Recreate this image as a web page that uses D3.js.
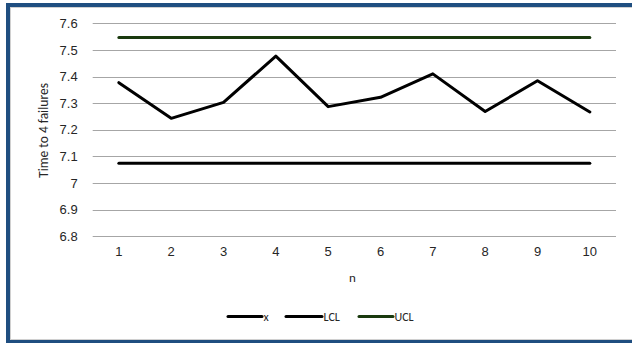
<!DOCTYPE html>
<html>
<head>
<meta charset="utf-8">
<script src="https://cdn.jsdelivr.net/npm/d3@7"></script>
<style>
  html, body { margin: 0; padding: 0; background: #fff; }
  svg { display: block; font-family: Carlito, Lato, "Open Sans", sans-serif; }
</style>
</head>
<body>
<svg id="chart" width="632" height="343"></svg>
<script>
// Control chart: time to 4 failures per sample n, with control limits
const categories = ["1", "2", "3", "4", "5", "6", "7", "8", "9", "10"];
const xValues = [7.377, 7.243, 7.303, 7.477, 7.287, 7.322, 7.41, 7.269, 7.384, 7.267];
const lclValue = 7.074;
const uclValue = 7.547;
const yTicks = [6.8, 6.9, 7, 7.1, 7.2, 7.3, 7.4, 7.5, 7.6];
const seriesNames = ["x", "LCL", "UCL"];

const W = 632, H = 343;
const svg = d3.select("#chart");
const textColor = "#262626";

// Frame: dark blue border with a thin light inner edge
svg.append("rect").attr("x", 8).attr("y", 5).attr("width", W + 10).attr("height", H - 6.5)
  .attr("fill", "none").attr("stroke", "#1F4E80").attr("stroke-width", 4);
svg.append("rect").attr("x", 10.5).attr("y", 7.5).attr("width", W).attr("height", H - 11)
  .attr("fill", "none").attr("stroke", "#d0d0d0").attr("stroke-width", 1);

const plot = { left: 92.7, right: 616, top: 23.3, bottom: 236.3 };

const x = d3.scaleBand().domain(categories).range([plot.left, plot.right]);
const y = d3.scaleLinear().domain([6.8, 7.6]).range([plot.bottom, plot.top]);
const cx = d => x(d) + x.bandwidth() / 2;

// Horizontal gridlines
svg.append("g").selectAll("line").data(yTicks).join("line")
  .attr("x1", plot.left).attr("x2", plot.right)
  .attr("y1", d => Math.round(y(d)) + 0.5).attr("y2", d => Math.round(y(d)) + 0.5)
  .attr("stroke", "#a6a6a6").attr("stroke-width", 1);

// Y axis labels
const yAxis = d3.axisLeft(y).tickValues(yTicks).tickSize(0).tickPadding(0)
  .tickFormat(d3.format("~g"));
const gy = svg.append("g").attr("transform", `translate(${plot.left - 15},0)`).call(yAxis);
gy.select(".domain").remove();
gy.selectAll("text").attr("font-size", 13).attr("font-weight", 500)
  .attr("fill", textColor).attr("font-family", null);

// X axis labels
const xAxis = d3.axisBottom(x).tickSize(0).tickPadding(0);
const gx = svg.append("g").attr("transform", `translate(0,${plot.bottom + 10})`).call(xAxis);
gx.select(".domain").remove();
gx.selectAll("text").attr("font-size", 13).attr("font-weight", 500)
  .attr("fill", textColor).attr("font-family", null);

// Axis titles
svg.append("text").attr("x", 352.5).attr("y", 282).attr("text-anchor", "middle")
  .attr("font-size", 13).attr("fill", textColor).text("n");
svg.append("text").attr("transform", "translate(48,130.5) rotate(-90)")
  .attr("text-anchor", "middle").attr("font-size", 13.5).attr("fill", textColor)
  .text("Time to 4 failures");

// Control limits
const limits = [
  { name: "UCL", value: uclValue, color: "#1A3A0E" },
  { name: "LCL", value: lclValue, color: "#000000" }
];
const seriesLine = d3.line().x(d => cx(d.c)).y(d => y(d.v));
limits.forEach(l => {
  svg.append("path")
    .datum(categories.map(c => ({ c, v: l.value })))
    .attr("d", seriesLine).attr("fill", "none")
    .attr("stroke", l.color).attr("stroke-width", 3).attr("stroke-linecap", "round");
});

// Observations
svg.append("path")
  .datum(categories.map((c, i) => ({ c, v: xValues[i] })))
  .attr("d", seriesLine).attr("fill", "none")
  .attr("stroke", "#000").attr("stroke-width", 3)
  .attr("stroke-linejoin", "round").attr("stroke-linecap", "round");

// Legend
const legendItems = [
  { name: seriesNames[0], color: "#000", x0: 228, x1: 262 },
  { name: seriesNames[1], color: "#000", x0: 286, x1: 322 },
  { name: seriesNames[2], color: "#1A3A0E", x0: 359, x1: 393 }
];
const lg = svg.append("g");
legendItems.forEach(it => {
  lg.append("line").attr("x1", it.x0).attr("x2", it.x1).attr("y1", 316.5).attr("y2", 316.5)
    .attr("stroke", it.color).attr("stroke-width", 3).attr("stroke-linecap", "round");
  lg.append("text").attr("x", it.x1 + 1.5).attr("y", 321).attr("font-size", 12)
    .attr("fill", textColor).text(it.name);
});
</script>
</body>
</html>
